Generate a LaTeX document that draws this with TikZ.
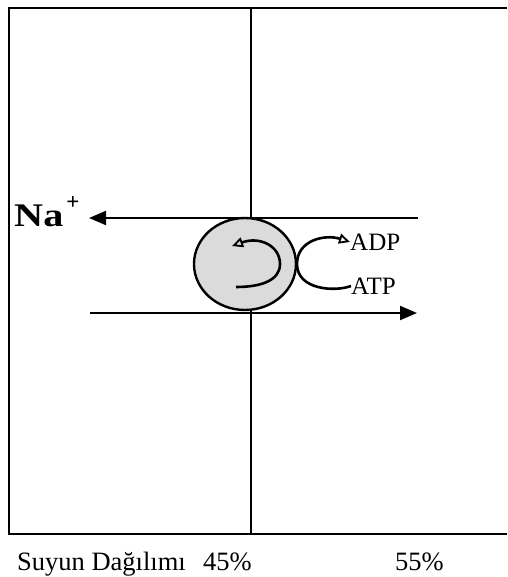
\documentclass[tikz,border=0pt]{standalone}
\usepackage{fontspec}
\setmainfont{Liberation Serif}
\usetikzlibrary{arrows.meta,shapes.geometric}
\tikzset{
  frameline/.style={line width=2.2pt},
  fluxarrow/.style={line width=2pt,-{Triangle[length=17pt,width=14pt]}},
  cyclearrow/.style={line width=2.6pt,-{Triangle[open,length=11pt,width=10pt,line width=1.8pt]}},
  lbl/.style={inner sep=0pt,font=\fontsize{25}{28}\selectfont},
  botlbl/.style={inner sep=0pt,font=\fontsize{26.5}{30}\selectfont}
}
\begin{document}
\begin{tikzpicture}[x=1pt,y=-1pt]
\useasboundingbox (0,0) rectangle (507,577);
% frame
\coordinate (tr) at (507,8);
\coordinate (tl) at (9,8);
\coordinate (bl) at (9,534);
\coordinate (br) at (507,534);
\coordinate (mt) at (251,8);
\coordinate (mb) at (251,534);
\draw[frameline] (tr) -- (tl) -- (bl) -- (br);
\draw[frameline] (mt) -- (mb);
% pump
\node[draw,line width=2.4pt,fill=gray!28,ellipse,minimum width=102pt,minimum height=92pt,inner sep=0pt] (pump) at (245,264) {};
% flux arrows
\coordinate (a1s) at (418,218);
\coordinate (a1e) at (89,218);
\coordinate (a2s) at (90,313);
\coordinate (a2e) at (417,313);
\draw[fluxarrow] (a1s) -- (a1e);
\draw[fluxarrow] (a2s) -- (a2e);
% Na+
\node[anchor=base west,inner sep=0pt] (na) at (14,226) {\scalebox{1.22}[1]{\fontsize{33}{36}\selectfont\bfseries Na}\hspace{3pt}\raisebox{17pt}{\fontsize{23}{24}\selectfont\bfseries +}};
% inner cycle arrow
\coordinate (c0) at (236,287);
\coordinate (c1) at (280,264);
\coordinate (c2) at (232,246);
\draw[cyclearrow] (c0) .. controls (262,287) and (280,280) .. (c1)
  .. controls (280,246) and (260,236) .. (c2);
% ADP / ATP
\node[lbl,anchor=west] (adp) at (350,242) {ADP};
\node[lbl,anchor=west] (atp) at (351,286) {ATP};
\draw[cyclearrow] (atp.west) .. controls (335,292) and (297,290) .. (297,264)
  .. controls (297,240) and (325,234) .. (adp.west);
% bottom labels
\node[botlbl,anchor=base west] (suyun) at (17,570) {Suyun Dağılımı};
\node[botlbl,anchor=base east] (p45) at (252,570) {45\%};
\node[botlbl,anchor=base west] (p55) at (395,570) {55\%};
\end{tikzpicture}
\end{document}
